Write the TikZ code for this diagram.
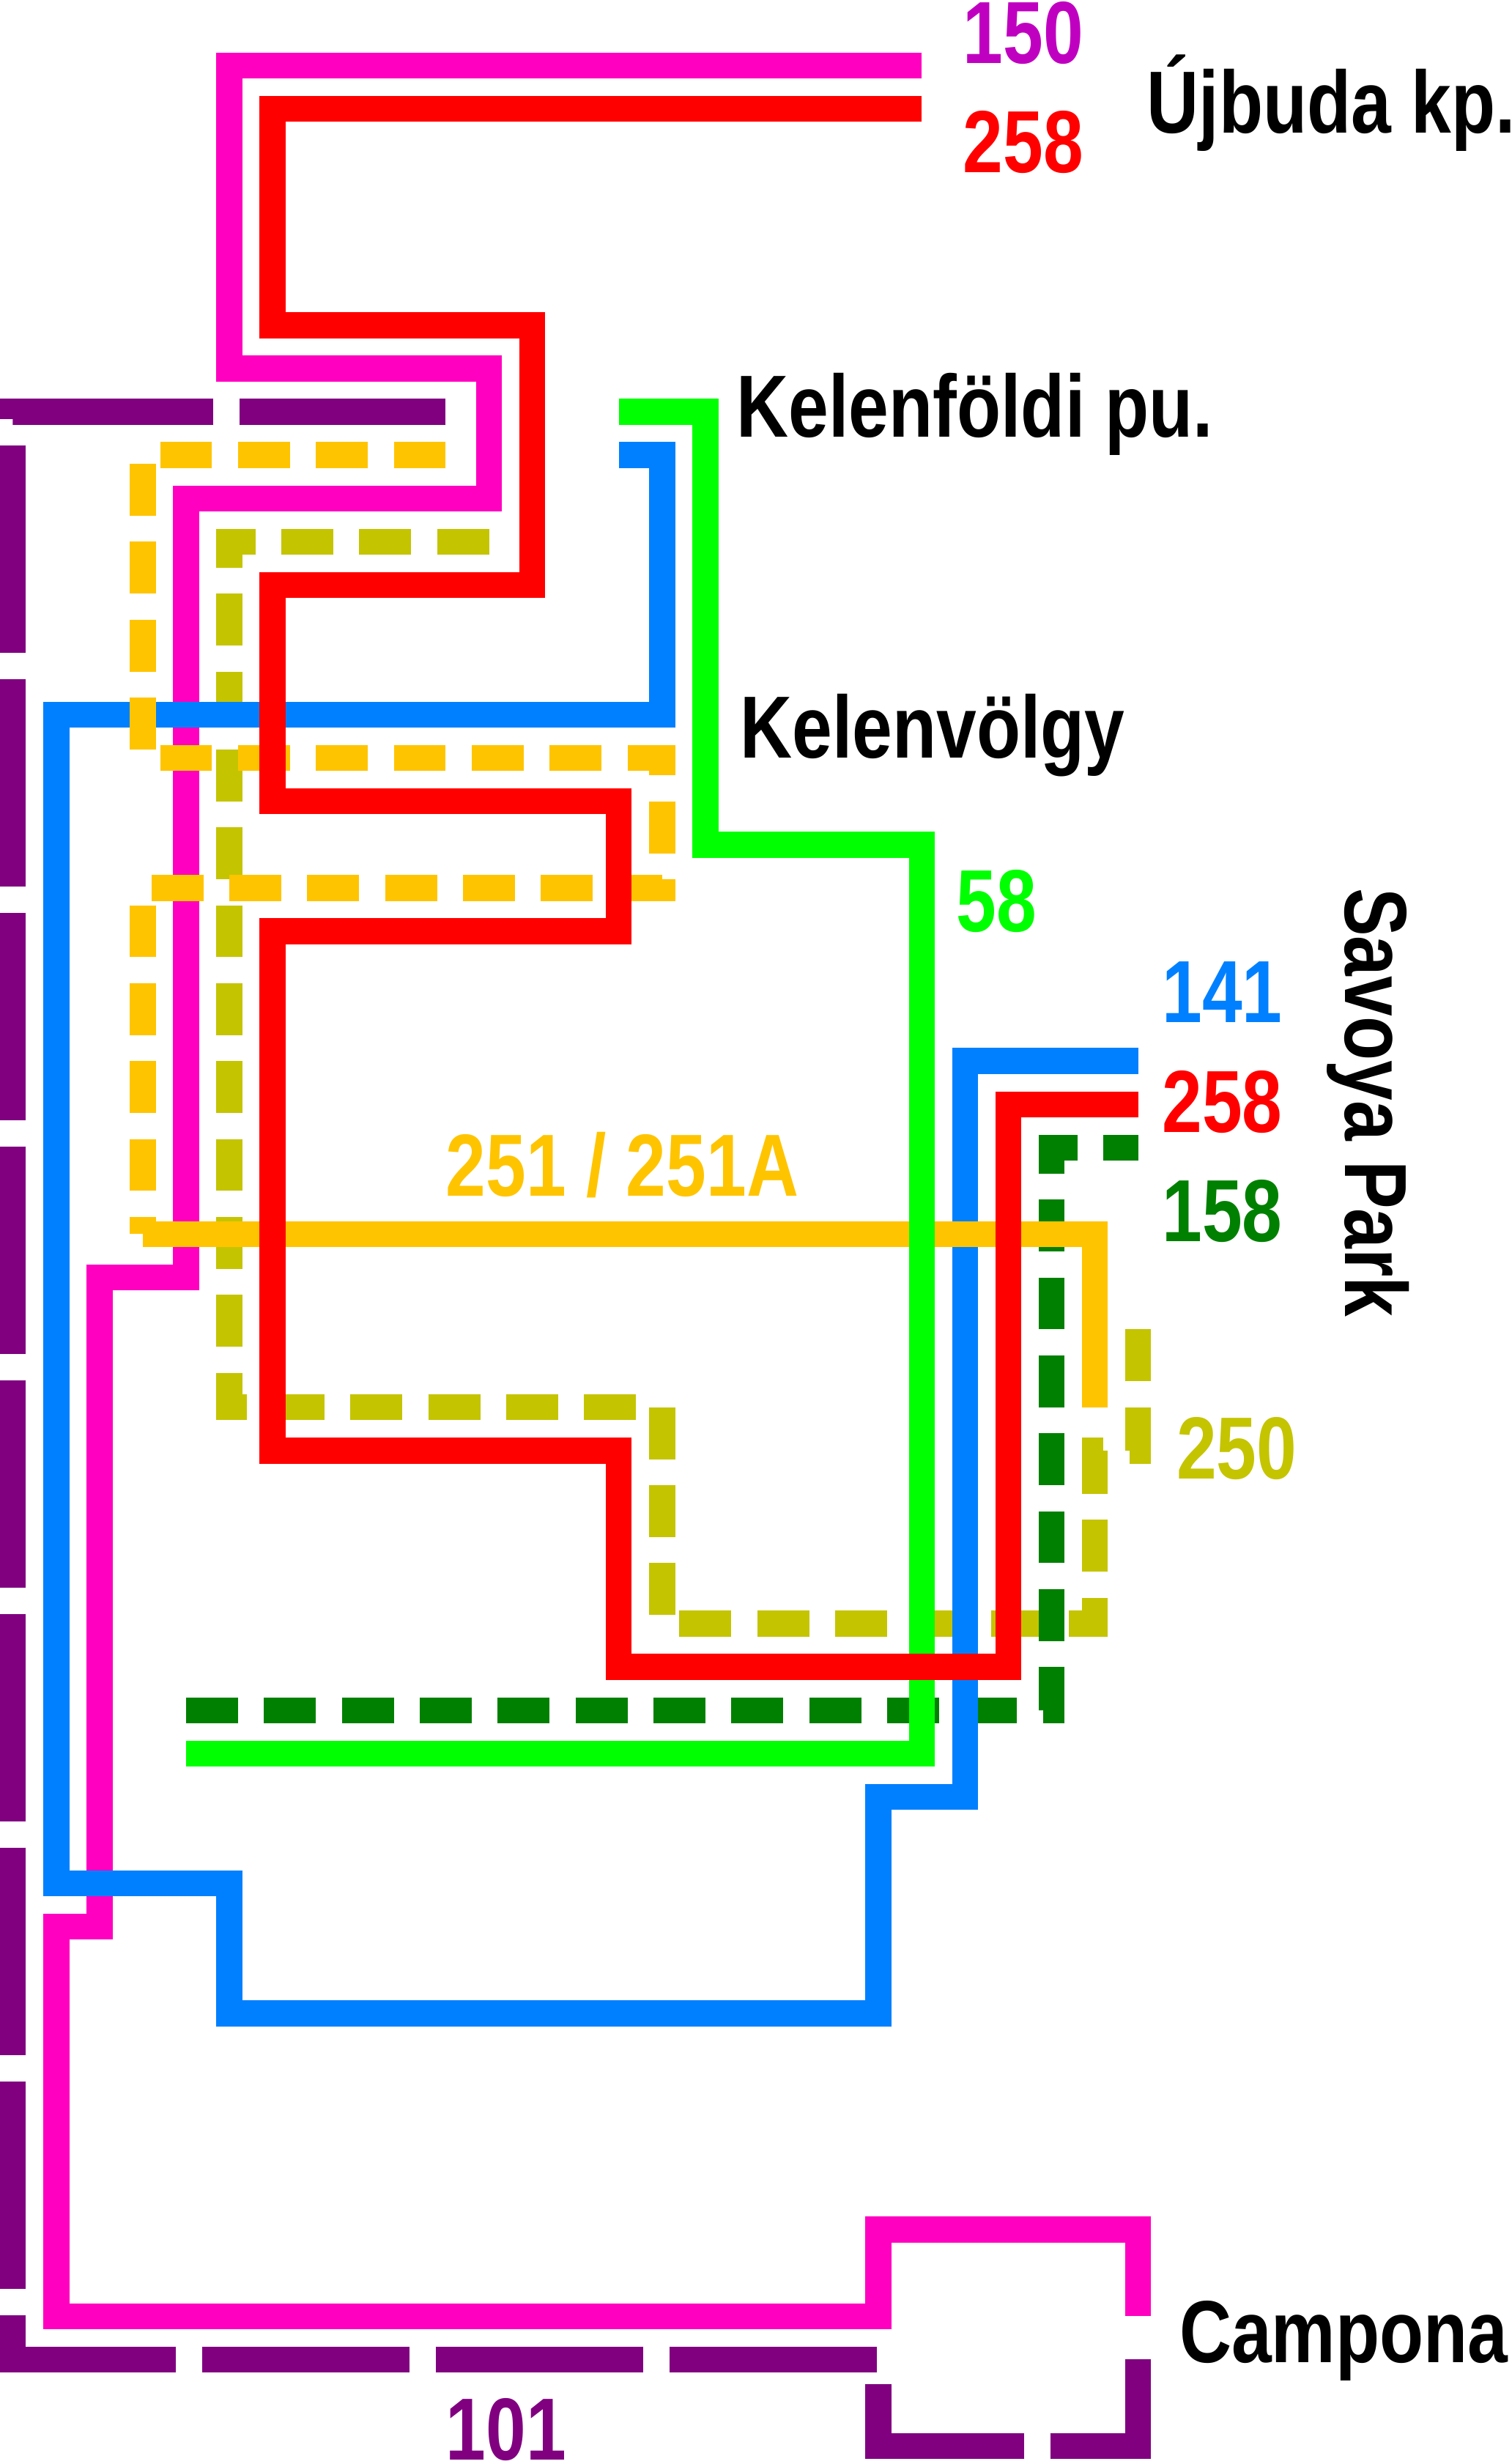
\documentclass[tikz,border=0pt]{standalone}
\usepackage{fontspec}
\setmainfont{Liberation Sans}[FakeStretch=0.817]
\definecolor{v101}{HTML}{800080}
\definecolor{v150}{HTML}{FF00C0}
\definecolor{t150}{HTML}{C000C0}
\definecolor{v251}{HTML}{FFC400}
\definecolor{v250}{HTML}{C4C400}
\definecolor{v141}{HTML}{0080FF}
\definecolor{v158}{HTML}{008000}
\begin{document}
\begin{tikzpicture}[y=-1cm,
  ln/.style={line width=0.6cm},
  dsh/.style={ln, dash pattern=on 1.2cm off 0.6cm},
  lng/.style={ln, dash pattern=on 4.8cm off 0.6cm, dash phase=0.03cm},
  lbl/.style={anchor=base west, inner sep=0pt, font=\fontsize{58}{60}\selectfont\bfseries}]
  \useasboundingbox (-0.3,-1.515) rectangle (34.625,55.415);

  % vonalak
  \draw[lng, v101] (10,8) -- (0,8) -- (0,53) -- (20,53) -- (20,55) -- (26,55) -- (26,53);
  \draw[ln, v150] (21,0) -- (5,0) -- (5,7) -- (11,7) -- (11,10) -- (4,10) -- (4,28) -- (2,28)
     -- (2,43) -- (1,43) -- (1,52) -- (20,52) -- (20,50) -- (26,50) -- (26,52);
  \draw[dsh, v250] (11,11) -- (5,11) -- (5,31) -- (15,31) -- (15,36) -- (25,36) -- (25,32)
     -- (26,32) -- (26,29.2);
  \draw[dsh, v158] (4,38) -- (24,38) -- (24,25) -- (26,25);
  \draw[ln, v141] (14,9) -- (15,9) -- (15,15) -- (1,15) -- (1,42) -- (5,42) -- (5,45) -- (20,45)
     -- (20,40) -- (22,40) -- (22,23) -- (26,23);
  \draw[dsh, v251] (10,9) -- (3,9) -- (3,16) -- (15,16) -- (15,19) -- (3,19) -- (3,27);
  \draw[ln, v251] (3,27) -- (25,27) -- (25,31);
  \draw[ln, green] (14,8) -- (16,8) -- (16,18) -- (21,18) -- (21,39) -- (4,39);
  \draw[ln, red] (21,1) -- (6,1) -- (6,6) -- (12,6) -- (12,12) -- (6,12) -- (6,17) -- (14,17)
     -- (14,20) -- (6,20) -- (6,32) -- (14,32) -- (14,37) -- (23,37) -- (23,24) -- (26,24);

  % szamok
  \foreach \nm/\clr/\txt/\px/\py in {a/t150/150/21.95/-0.055, b/red/258/21.95/2.475, c/green/58/21.8/20.015,
      d/v141/141/26.55/22.115, e/red/258/26.55/24.645, f/v158/158/26.55/27.175, g/v250/250/26.88/32.655,
      h/v251/251 \slash{} 251A/10/26.125, i/v101/101/10/55.315}{
    \node[lbl, text=\clr] (num\nm) at (\px,\py) {\txt};
  }

  % megallok
  \node[lbl] (ujbuda) at (26.2,1.55) {Újbuda kp.};
  \node[lbl] (kelenfold) at (16.72,8.575) {Kelenföldi pu.};
  \node[lbl] (kelenvolgy) at (16.8,16) {Kelenvölgy};
  \node[lbl, rotate=-90] (savoya) at (30.78,19) {Savoya Park};
  \node[lbl] (campona) at (26.95,53.075) {Campona};
\end{tikzpicture}
\end{document}
